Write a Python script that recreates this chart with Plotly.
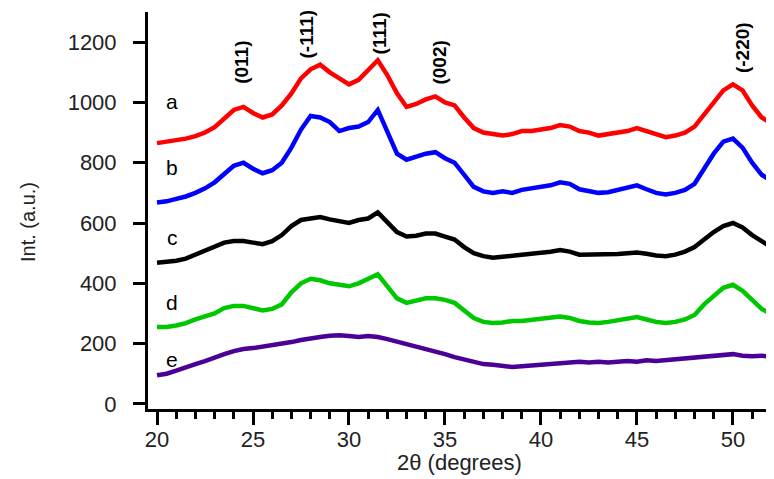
import plotly.graph_objects as go

two_theta = [20 + 0.5 * i for i in range(65)]

series_a = [865, 870, 872, 880, 888, 900, 918, 945, 975, 985, 965, 950, 960, 990, 1030, 1080,
            1110, 1125, 1100, 1080, 1060, 1075, 1110, 1140, 1090, 1030, 985, 995, 1010, 1020,
            1000, 990, 950, 915, 900, 895, 890, 895, 905, 905, 910, 915, 925, 920, 905, 900,
            890, 895, 900, 905, 915, 905, 895, 885, 890, 900, 920, 960, 1000, 1040, 1060, 1040,
            990, 950, 930]
series_b = [668, 672, 680, 688, 700, 715, 735, 765, 790, 800, 780, 765, 775, 800, 850, 910,
            955, 950, 935, 905, 915, 920, 935, 975, 900, 830, 810, 820, 830, 835, 815, 800,
            760, 720, 705, 700, 705, 700, 710, 715, 720, 725, 735, 730, 712, 705, 700, 702,
            710, 720, 725, 712, 700, 695, 700, 710, 730, 780, 830, 870, 880, 850, 800, 760, 740]
series_c = [468, 470, 475, 482, 495, 505, 520, 535, 540, 540, 535, 530, 540, 560, 590, 610,
            615, 620, 612, 605, 600, 610, 615, 635, 600, 570, 555, 558, 565, 565, 555, 545,
            520, 500, 490, 485, 488, 490, 495, 498, 500, 505, 510, 505, 495, 495, 495, 495,
            497, 500, 502, 498, 492, 490, 495, 505, 520, 545, 570, 590, 600, 585, 560, 540, 520]
series_d = [255, 255, 260, 268, 280, 290, 300, 318, 325, 325, 318, 310, 315, 330, 370, 400,
            415, 410, 400, 395, 390, 400, 415, 430, 390, 350, 335, 342, 350, 350, 345, 335,
            310, 285, 272, 268, 270, 275, 275, 278, 282, 285, 290, 285, 275, 270, 268, 272,
            278, 282, 288, 280, 272, 268, 272, 280, 295, 330, 360, 385, 395, 375, 345, 315, 298]
series_e = [95, 100, 110, 122, 132, 142, 155, 165, 175, 182, 185, 190, 195, 198, 205, 212,
            218, 222, 226, 228, 225, 222, 225, 222, 215, 205, 198, 190, 182, 175, 165, 155,
            148, 138, 132, 130, 125, 122, 125, 128, 130, 132, 135, 138, 140, 137, 140, 137,
            140, 142, 140, 145, 142, 145, 148, 150, 155, 158, 162, 165, 165, 160, 158, 160, 155]

series_names = ["a", "b", "c", "d", "e"]
series_values = [series_a, series_b, series_c, series_d, series_e]
series_colors = ["#ff0000", "#0000ff", "#000000", "#00c800", "#4b0096"]
label_y = [1003, 784, 551, 335, 146]

peak_labels = ["(011)", "(-111)", "(111)", "(002)", "(-220)"]
peak_x = [24.4, 27.8, 31.6, 34.7, 50.5]
peak_y = [1133, 1228, 1228, 1133, 1182]

y_ticks = [0, 200, 400, 600, 800, 1000, 1200]
x_ticks = [20, 25, 30, 35, 40, 45, 50]

FONT = "Liberation Sans, Arial, sans-serif"

fig = go.Figure()
for name, vals, col in zip(series_names, series_values, series_colors):
    fig.add_trace(go.Scatter(x=two_theta, y=vals, mode="lines", name=name,
                             line=dict(color=col, width=4.5), showlegend=False))

annotations = []
for name, yv in zip(series_names, label_y):
    annotations.append(dict(x=20.8, y=yv, xref="x", yref="y", text=name, showarrow=False,
                            font=dict(family=FONT, size=21, color="black"),
                            xanchor="center", yanchor="middle"))
for lab, xv, yv in zip(peak_labels, peak_x, peak_y):
    annotations.append(dict(x=xv, y=yv, xref="x", yref="y", text="<b>%s</b>" % lab,
                            showarrow=False, textangle=-90,
                            font=dict(family=FONT, size=19, color="black"),
                            xanchor="center", yanchor="middle"))
annotations.append(dict(x=-0.1917, y=0.471, xref="paper", yref="paper", text="Int. (a.u.)",
                        showarrow=False, textangle=-90, font=dict(family=FONT, size=20, color="#222"),
                        xanchor="center", yanchor="middle"))
annotations.append(dict(x=0.498, y=-0.136, xref="paper", yref="paper", text="2θ (degrees)",
                        showarrow=False, font=dict(family=FONT, size=22, color="#222"),
                        xanchor="center", yanchor="middle"))

fig.update_layout(
    width=766, height=471,
    margin=dict(l=140, r=0, t=4, b=70),
    plot_bgcolor="white", paper_bgcolor="white",
    annotations=annotations,
    xaxis=dict(range=[19.53, 52.14], tickvals=x_ticks, ticks="outside", ticklen=13, tickwidth=3,
               tickcolor="black", showline=True, linewidth=3, linecolor="black",
               showgrid=False, zeroline=False, ticklabelstandoff=-4,
               tickfont=dict(family=FONT, size=22, color="#222"),
               minor=dict(dtick=1, ticks="outside", ticklen=7, tickwidth=3, tickcolor="black",
                          showgrid=False)),
    yaxis=dict(range=[-17, 1300], tickvals=y_ticks, ticks="outside", ticklen=12, tickwidth=3,
               tickcolor="black", showline=True, linewidth=3, linecolor="black",
               showgrid=False, zeroline=False, ticklabelstandoff=12,
               tickfont=dict(family=FONT, size=22, color="#222")),
)

fig.write_html("out.html")
